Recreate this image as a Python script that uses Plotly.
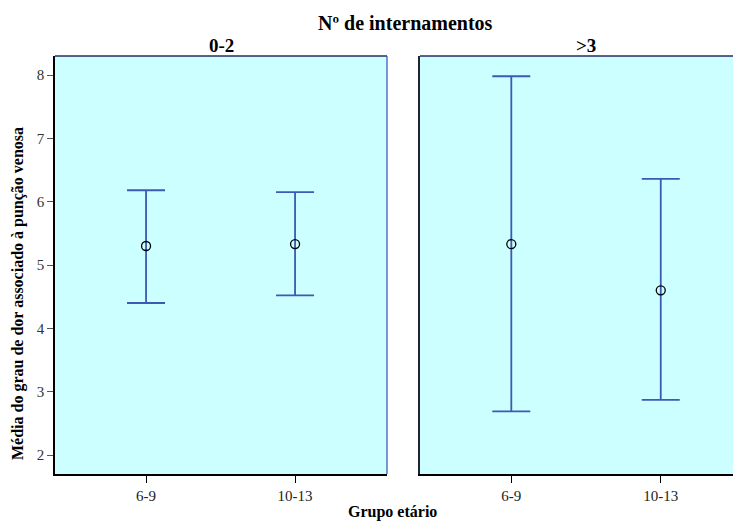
import plotly.graph_objects as go

# Data
age_groups = ["6-9", "10-13"]
panels = ["0-2", ">3"]
mean_02 = [5.30, 5.33]
low_02 = [4.40, 4.52]
high_02 = [6.18, 6.15]
mean_3 = [5.33, 4.60]
low_3 = [2.69, 2.87]
high_3 = [7.98, 6.36]
y_ticks = [2, 3, 4, 5, 6, 7, 8]

BAR = "#3C5AB4"
SERIF = "Liberation Serif, Times New Roman, serif"

fig = go.Figure()

def add_panel(means, lows, highs, xa, ya):
    fig.add_trace(go.Scatter(
        x=age_groups, y=means, mode="markers",
        marker=dict(symbol="circle-open", size=9, color="black", line=dict(width=1.3, color="black")),
        error_y=dict(type="data", symmetric=False,
                     array=[h - m for h, m in zip(highs, means)],
                     arrayminus=[m - l for m, l in zip(means, lows)],
                     color=BAR, thickness=1.8, width=19),
        xaxis=xa, yaxis=ya, showlegend=False, hoverinfo="skip"))

add_panel(mean_02, low_02, high_02, "x", "y")
add_panel(mean_3, low_3, high_3, "x2", "y2")

OFF = 8  # page body margin
W, H = 741 - OFF, 521 - OFF
L, T, B, R = 55 - OFF, 56 - OFF, 521 - 474, 0
pw = W - L - R
ph = H - T - B

def px_x(sx):
    return (sx - OFF - L) / pw

def px_y(sy):
    return (H - B - (sy - OFF)) / ph

yr = [1.70, 8.30]
common_x = dict(type="category", showline=True, linecolor="black", linewidth=1.5,
                ticks="outside", ticklen=7, tickcolor="black", tickwidth=1,
                showgrid=False, zeroline=False,
                tickfont=dict(family=SERIF, size=15, color="#222222"))

fig.update_layout(
    width=W, height=H,
    margin=dict(l=L, r=R, t=T, b=B, autoexpand=False),
    paper_bgcolor="white", plot_bgcolor="#CCFFFF",
    xaxis=dict(domain=[0, px_x(387)], range=[-0.611, 1.617], anchor="y", **common_x),
    xaxis2=dict(domain=[px_x(420), 1], range=[-0.611, 1.537], anchor="y2", **common_x),
    yaxis=dict(range=yr, tickvals=y_ticks, showline=True, linecolor="black", linewidth=1.5,
               ticks="outside", ticklen=6, tickcolor="#555555", showgrid=False, zeroline=False,
               tickfont=dict(family=SERIF, size=15, color="#333333"), anchor="x"),
    yaxis2=dict(range=yr, tickvals=y_ticks, showticklabels=False, ticks="", showline=True,
                linecolor="#222233", linewidth=1.5, showgrid=False, zeroline=False, anchor="x2"),
)

# Panel borders (top lines and panel-1 right edge)
fig.add_shape(type="line", xref="x domain", yref="y domain", x0=0, x1=1, y0=1, y1=1,
              line=dict(color="#2A2A66", width=1.5))
fig.add_shape(type="line", xref="x domain", yref="y domain", x0=1, x1=1, y0=0, y1=1,
              line=dict(color="#3050B8", width=1.2))
fig.add_shape(type="line", xref="x2 domain", yref="y2 domain", x0=0, x1=1.05, y0=1, y1=1,
              line=dict(color="#2A2A66", width=1.5))

def label(text, sx, sy, size, angle=0):
    fig.add_annotation(text=f"<b>{text}</b>", xref="paper", yref="paper",
                       x=px_x(sx), y=px_y(sy), xanchor="center", yanchor="middle",
                       showarrow=False, textangle=angle,
                       font=dict(family=SERIF, size=size, color="black"))

label("Nº de internamentos", 405, 23, 20)
label(panels[0], 221, 46, 19)
label(panels[1], 586, 46, 19)
label("Grupo etário", 392, 512, 16)
label("Média do grau de dor associado à punção venosa", 18, 294, 16, angle=-90)

fig.write_html("out.html")
